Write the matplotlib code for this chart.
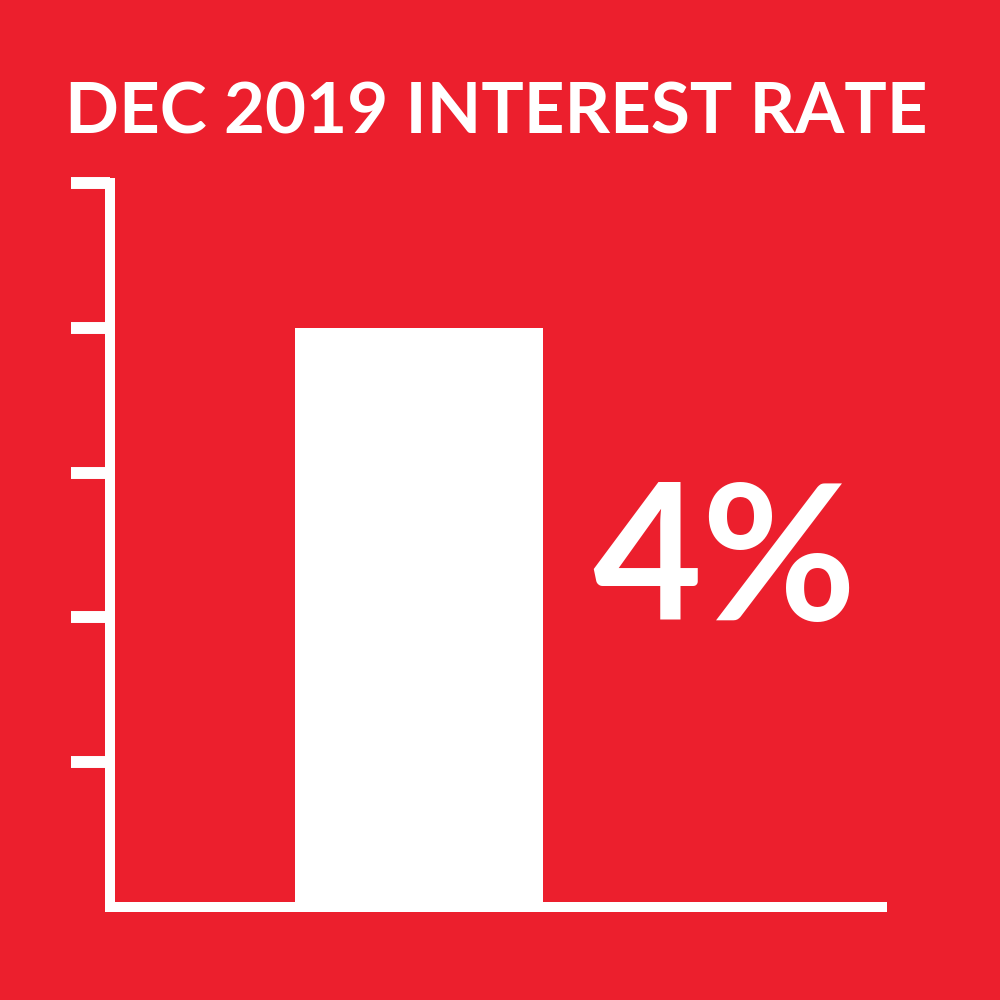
import matplotlib.pyplot as plt

# --- DATA ---
categories = ['Dec 2019']
rates = [4]
y_ticks = [1, 2, 3, 4, 5]
title = 'DEC 2019 INTEREST RATE'

RED = '#EC1F2D'
WHITE = '#FFFFFF'
FONT = 'Lato'


def main():
    fig = plt.figure(figsize=(10, 10), dpi=100, facecolor=RED)
    ax = fig.add_axes([0.110, 0.093, 0.772, 0.724])
    ax.set_facecolor(RED)

    x = list(range(len(categories)))
    ax.bar(x, rates, width=0.805, color=WHITE, edgecolor='none', zorder=1)

    ax.set_xlim(-1.0, 1.5)
    ax.set_ylim(0, 5)
    ax.set_yticks(y_ticks)
    ax.set_yticklabels([])
    ax.set_xticks([])

    for side in ['top', 'right']:
        ax.spines[side].set_visible(False)
    for side in ['left', 'bottom']:
        ax.spines[side].set_color(WHITE)
        ax.spines[side].set_linewidth(7.2)
        ax.spines[side].set_capstyle('projecting')
        ax.spines[side].set_zorder(3)
    ax.tick_params(axis='y', direction='out', length=28, width=8.6, color=WHITE)

    # value label
    ax.text(0.99, 2.36, f'{rates[0]:g}%', color=WHITE, fontsize=136,
            fontweight='bold', family=FONT, ha='center', va='center')

    fig.text(0.496, 0.867, title, color=WHITE, fontsize=51, fontweight='bold',
             family=FONT, ha='center', va='baseline')

    fig.savefig('out.png', dpi=100, facecolor=RED)


if __name__ == '__main__':
    main()
